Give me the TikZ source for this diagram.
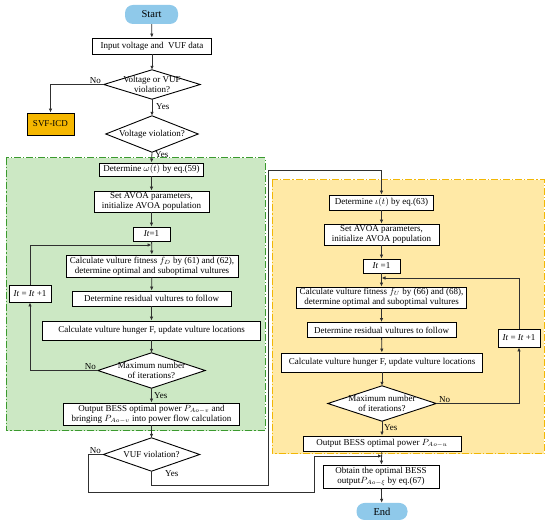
\documentclass[tikz,border=0pt]{standalone}
\usepackage{fontspec}
\setmainfont{Liberation Serif}
\usetikzlibrary{arrows.meta}
\definecolor{greenfill}{HTML}{CCE8C4}
\definecolor{greenline}{HTML}{3A9A2E}
\definecolor{yelfill}{HTML}{FFE9A6}
\definecolor{yelline}{HTML}{F2B705}
\definecolor{termfill}{HTML}{8FC9EA}
\definecolor{svffill}{HTML}{F5B700}
\definecolor{lncol}{HTML}{303030}
\tikzset{
  box/.style={draw=black,line width=0.9pt,fill=white,inner sep=0pt,align=center,font=\fontsize{9}{10.2}\selectfont},
  decframe/.style={draw=none,inner sep=0pt},
  decshape/.style={draw=black,fill=white,line width=0.9pt,line join=miter},
  dectext/.style={inner sep=0pt,align=center,font=\fontsize{9}{10.2}\selectfont},
  term/.style={rounded corners=8pt,fill=termfill,inner sep=0pt,font=\fontsize{10.5}{12}\selectfont},
  lbl/.style={inner sep=0pt,font=\fontsize{9}{10.2}\selectfont},
  arr/.style={draw=lncol,line width=0.8pt,-{Latex[length=4pt,width=3.5pt]}},
  dashdot/.style={dash pattern=on 7pt off 2pt on 1.2pt off 2pt,line width=1pt}
}
\begin{document}
\begin{tikzpicture}[x=1pt,y=-1pt]
\useasboundingbox (0,0) rectangle (550,526);
% panels
\fill[greenfill] (6,158) rectangle (265,431);
\draw[greenline,dashdot] (6,158) rectangle (265,431);
\fill[yelfill] (272,180) rectangle (544,454);
\draw[yelline,dashdot] (272,180) rectangle (544,454);

% decision frames (empty, shape drawn below)
\node[decframe,minimum width=96pt,minimum height=29pt] (d1) at (152,84.5) {};
\node[decframe,minimum width=92pt,minimum height=36pt] (d2) at (152,134) {};
\node[decframe,minimum width=107pt,minimum height=35pt] (max1) at (151.5,370.5) {};
\node[decframe,minimum width=96pt,minimum height=33pt] (vuf) at (151.5,454.5) {};
\node[decframe,minimum width=108pt,minimum height=35pt] (max2) at (382,403.5) {};
\foreach \d in {d1,d2,max1,vuf,max2}{
  \draw[decshape] (\d.north) -- (\d.east) -- (\d.south) -- (\d.west) -- cycle;
}
\node[dectext] (d1t) at (d1) {Voltage or VUF\\violation?};
\node[dectext] (d2t) at (d2) {Voltage violation?};
\node[dectext] (max1t) at (max1) {Maximum number\\of iterations?};
\node[dectext] (vuft) at (vuf) {VUF violation?};
\node[dectext] (max2t) at (max2) {Maximum number\\of iterations?};

% top
\node[term,minimum width=53pt,minimum height=19pt] (start) at (151.5,14.5) {Start};
\node[box,minimum width=119pt,minimum height=16pt] (input) at (152,46) {Input voltage and\ \ VUF data};
\node[box,fill=svffill,minimum width=47pt,minimum height=22pt] (svf) at (50.5,124) {SVF-ICD};

% left panel
\node[box,minimum width=104pt,minimum height=13pt] (detw) at (151.5,169.5) {Determine $\omega(t)$ by eq.(59)};
\node[box,minimum width=115pt,minimum height=21pt] (set1) at (151.5,201.5) {Set AVOA parameters,\\initialize AVOA population};
\node[box,minimum width=37pt,minimum height=14pt] (it1) at (151.5,234) {\textit{It}=1};
\coordinate (j1) at (151.5,245);
\node[box,minimum width=172pt,minimum height=22pt] (fit1) at (152,266) {Calculate vulture fitness $f_D$ by (61) and (62),\\determine optimal and suboptimal vultures};
\node[box,minimum width=42pt,minimum height=17pt] (inc1) at (30,293.5) {\textit{It} = \textit{It} +1};
\node[box,minimum width=159pt,minimum height=15pt] (res1) at (151.5,298.5) {Determine residual vultures to follow};
\node[box,minimum width=218pt,minimum height=19pt] (hun1) at (151.5,330.5) {Calculate vulture hunger F, update vulture locations};
\node[box,minimum width=176pt,minimum height=22pt] (out1) at (151.5,414) {Output BESS optimal power $P_{Ao-v}$ and\\bringing $P_{Ao-v}$ into power flow calculation};

% right panel
\node[box,minimum width=104pt,minimum height=15pt] (deti) at (381.5,202.5) {Determine $\iota(t)$ by eq.(63)};
\node[box,minimum width=115pt,minimum height=21pt] (set2) at (381.5,234.5) {Set AVOA parameters,\\initialize AVOA population};
\node[box,minimum width=37pt,minimum height=14pt] (it2) at (381.5,266) {\textit{It} =1};
\coordinate (j2) at (381.5,278);
\node[box,minimum width=170pt,minimum height=21pt] (fit2) at (381.5,297.5) {Calculate vulture fitness $f_U$ by (66) and (68),\\determine optimal and suboptimal vultures};
\node[box,minimum width=149pt,minimum height=15pt] (res2) at (381.5,330) {Determine residual vultures to follow};
\node[box,minimum width=42pt,minimum height=18pt] (inc2) at (519,338) {\textit{It} = \textit{It} +1};
\node[box,minimum width=201pt,minimum height=19pt] (hun2) at (382,362.5) {Calculate vulture hunger F, update vulture locations};
\node[box,minimum width=158pt,minimum height=15pt] (out2) at (382,443.5) {Output BESS optimal power $P_{Ao-u}$};
\coordinate (j3) at (382,456);
\node[box,minimum width=116pt,minimum height=23pt] (obt) at (381,476.5) {Obtain the optimal BESS\\output$P_{Ao-\xi}$ by eq.(67)};
\node[term,minimum width=51pt,minimum height=17pt] (end) at (382,511.5) {End};

% helper coordinates
\coordinate (v1) at (88,492);
\coordinate (v2) at (314,492);
\coordinate (v3) at (314,456);
\coordinate (y1) at (151.5,485);
\coordinate (y2) at (268,485);
\coordinate (y3) at (268,170);
\coordinate (y4) at (381.5,170);

% connectors top
\draw[arr] (start) -- (input);
\draw[arr] (input) -- (d1.north);
\draw[arr] (d1.west) -| (svf.north);
\node[lbl,anchor=south east] (no1) at (101,84) {No};
\draw[arr] (d1.south) -- (d2.north);
\node[lbl,anchor=west] (yes1) at (156,107) {Yes};
\draw[arr] (d2.south) -- (detw.north);
\node[lbl,anchor=west] (yes2) at (155,155) {Yes};

% left connectors
\draw[arr] (detw) -- (set1);
\draw[arr] (set1) -- (it1);
\draw[arr] (it1) -- (fit1);
\draw[arr] (fit1) -- (res1);
\draw[arr] (res1) -- (hun1);
\draw[arr] (hun1) -- (max1.north);
\draw[arr] (max1.west) -| (inc1.south);
\node[lbl,anchor=south east] (no2) at (96,370) {No};
\draw[arr] (inc1.north) |- (j1);
\draw[arr] (max1.south) -- (out1.north);
\node[lbl,anchor=west] (yes3) at (154,396) {Yes};
\draw[arr] (out1) -- (vuf.north);
\draw[arr] (vuf.west) -- (v1 |- vuf.west) -- (v1) -- (v2) -- (v3) -- (j3);
\node[lbl,anchor=south east] (no3) at (101,454) {No};
\draw[arr] (vuf.south) -- (y1) -- (y2) -- (y3) -- (y4) -- (deti.north);
\node[lbl,anchor=west] (yes4) at (165,474) {Yes};

% right connectors
\draw[arr] (deti) -- (set2);
\draw[arr] (set2) -- (it2);
\draw[arr] (it2) -- (fit2);
\draw[arr] (fit2) -- (res2);
\draw[arr] (res2) -- (hun2);
\draw[arr] (hun2) -- (max2.north);
\draw[arr] (max2.east) -| (inc2.south);
\node[lbl,anchor=south west] (no4) at (439,403) {No};
\draw[arr] (inc2.north) |- (j2);
\draw[arr] (max2.south) -- (out2.north);
\node[lbl,anchor=west] (yes5) at (384,428) {Yes};
\draw[arr] (out2) -- (obt);
\draw[arr] (obt) -- (end);
\end{tikzpicture}
\end{document}
